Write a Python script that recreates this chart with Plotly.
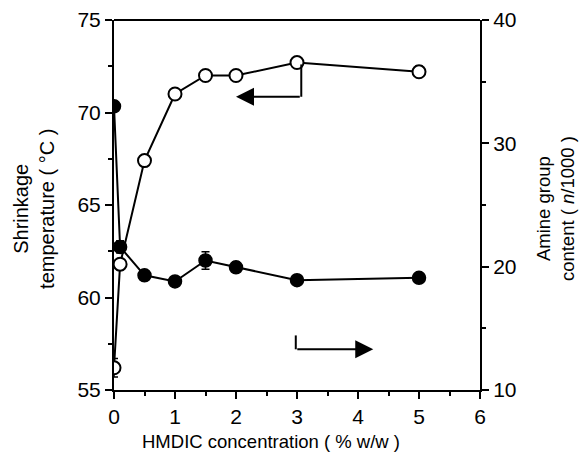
import plotly.graph_objects as go

conc = [0, 0.1, 0.5, 1, 1.5, 2, 3, 5]
shrink_temp = [56.2, 61.8, 67.4, 71.0, 72.0, 72.0, 72.7, 72.2]
shrink_err = [0.5, 0.3, 0.2, 0.2, 0.2, 0.2, 0.2, 0.3]
amine = [33.0, 21.6, 19.3, 18.8, 20.5, 19.95, 18.9, 19.1]
amine_err = [0.4, 0.5, 0.2, 0.2, 0.7, 0.4, 0.2, 0.2]

x_ticks = [0, 1, 2, 3, 4, 5, 6]
y1_ticks = [55, 60, 65, 70, 75]
y2_ticks = [10, 20, 30, 40]

x_title = "HMDIC concentration ( % w/w )"
y1_title = "Shrinkage<br>temperature ( °C )"
y2_title = "Amine group<br>content ( <i>n</i>/1000 )"

font_family = "Liberation Sans, Arial, Helvetica, sans-serif"

fig = go.Figure()
fig.add_trace(go.Scatter(
    x=conc, y=amine, yaxis="y2", mode="lines+markers",
    line=dict(color="black", width=2),
    marker=dict(symbol="circle", size=13, color="black", line=dict(color="black", width=1.5)),
    error_y=dict(type="data", array=amine_err, color="black", thickness=1.5, width=4),
    showlegend=False,
))
fig.add_trace(go.Scatter(
    x=conc, y=shrink_temp, mode="lines+markers",
    line=dict(color="black", width=2),
    marker=dict(symbol="circle", size=13, color="white", line=dict(color="black", width=2)),
    error_y=dict(type="data", array=shrink_err, color="black", thickness=1.5, width=4),
    showlegend=False,
))

# direction indicators (which axis each curve belongs to)
fig.add_shape(type="line", x0=3.07, x1=3.07, y0=72.6, y1=70.85, xref="x", yref="y",
              line=dict(color="black", width=2))
fig.add_annotation(x=2.0, y=70.85, ax=3.07, ay=70.85, xref="x", yref="y", axref="x", ayref="y",
                   showarrow=True, arrowhead=2, arrowsize=1.8, arrowwidth=2, arrowcolor="black", text="")
fig.add_shape(type="line", x0=2.98, x1=2.98, y0=57.95, y1=57.2, xref="x", yref="y",
              line=dict(color="black", width=2))
fig.add_annotation(x=4.25, y=57.2, ax=2.98, ay=57.2, xref="x", yref="y", axref="x", ayref="y",
                   showarrow=True, arrowhead=2, arrowsize=1.8, arrowwidth=2, arrowcolor="black", text="")

# axis titles as annotations for exact placement
fig.add_annotation(text=y1_title, xref="paper", yref="paper", x=-0.219, y=0.489,
                   xanchor="center", yanchor="middle", textangle=-90, showarrow=False,
                   font=dict(size=20, color="black", family=font_family))
fig.add_annotation(text=y2_title, xref="paper", yref="paper", x=1.205, y=0.489,
                   xanchor="center", yanchor="middle", textangle=-90, showarrow=False,
                   font=dict(size=18.5, color="black", family=font_family))
fig.add_annotation(text=x_title, xref="paper", yref="paper", x=0.429, y=-0.138,
                   xanchor="center", yanchor="middle", showarrow=False,
                   font=dict(size=18.5, color="black", family=font_family))

axis_common = dict(showgrid=False, zeroline=False, showline=True, linecolor="black", linewidth=2,
                   ticks="outside", ticklen=7, tickwidth=2, tickcolor="black", automargin=False,
                   tickfont=dict(size=21, color="black", family=font_family))

fig.update_layout(
    width=579, height=461,
    margin=dict(l=114, r=99, t=20, b=71),
    paper_bgcolor="white", plot_bgcolor="white",
    font=dict(family=font_family, color="black"),
    xaxis=dict(range=[0, 6], tickvals=x_ticks, mirror=False,
               minor=dict(dtick=0.5, ticklen=4, tickwidth=2, tickcolor="black", ticks="outside"),
               **axis_common),
    yaxis=dict(range=[55, 75], tickvals=y1_ticks,
               minor=dict(dtick=2.5, ticklen=4, tickwidth=2, tickcolor="black", ticks="outside"),
               **axis_common),
    yaxis2=dict(range=[10, 40], tickvals=y2_ticks, overlaying="y", side="right",
                minor=dict(dtick=5, ticklen=4, tickwidth=2, tickcolor="black", ticks="outside"),
                **axis_common),
)
# top frame line
fig.add_shape(type="line", x0=0, x1=1, y0=1, y1=1, xref="paper", yref="paper",
              line=dict(color="black", width=2))

fig.write_html("out.html")
